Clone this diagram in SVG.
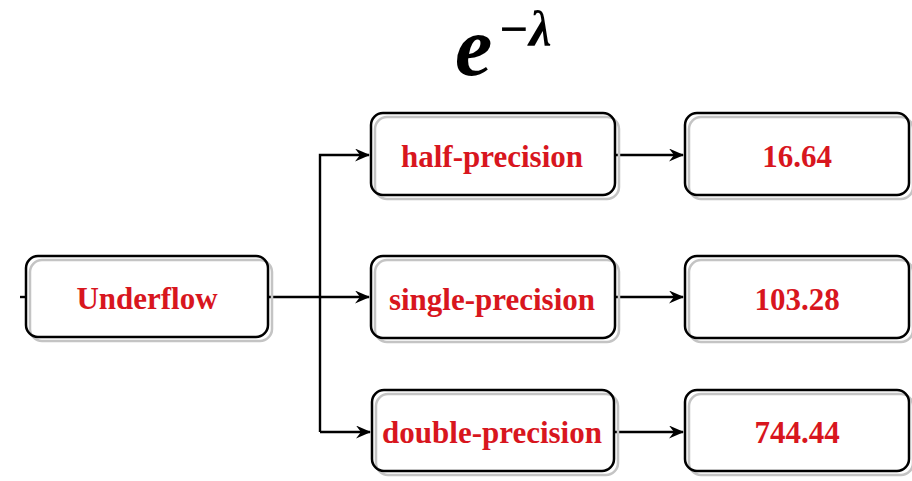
<svg xmlns="http://www.w3.org/2000/svg" width="912" height="481" viewBox="0 0 912 481">
<defs>
<style>
.sh{fill:none;stroke:#c4c4c4;stroke-width:2.5}
.bx{fill:none;stroke:#000;stroke-width:2.5}
.bg{fill:#fff;stroke:none}
.t{font-family:"Liberation Serif",serif;font-weight:bold;font-size:31px;fill:#d8161e;text-anchor:middle;dominant-baseline:central}
.c{fill:none;stroke:#000;stroke-width:2.4}
</style>
<marker id="ah" markerWidth="15" markerHeight="13" refX="14" refY="6.5" orient="auto" markerUnits="userSpaceOnUse">
<path d="M0,0 L15,6.5 L0,13 L5,6.5 Z" fill="#000"/>
</marker>
</defs>
<rect width="912" height="481" fill="#fff"/>
<g id="title" font-family="'Liberation Serif',serif" font-weight="bold" font-style="italic">
<text x="455" y="75" font-size="84">e</text>
<text x="498" y="46" font-size="51">−λ</text>
</g>
<g id="connectors">
<path class="c" d="M268,297 H369" marker-end="url(#ah)"/>
<path class="c" d="M320,432 V155 H369" marker-end="url(#ah)"/>
<path class="c" d="M320,432 H370" marker-end="url(#ah)"/>
<path class="c" d="M615,155 H683" marker-end="url(#ah)"/>
<path class="c" d="M615,297 H683" marker-end="url(#ah)"/>
<path class="c" d="M614,432 H683" marker-end="url(#ah)"/>
<path class="c" d="M20,297 H26"/>
</g>
<g id="underflow">
<rect class="bg" x="26" y="256" width="242" height="81" rx="12"/>
<rect class="sh" x="30" y="260" width="242" height="81" rx="12"/>
<rect class="bx" x="26" y="256" width="242" height="81" rx="12"/>
<text class="t" x="147" y="298">Underflow</text>
</g>
<g id="half">
<rect class="bg" x="371" y="113" width="244" height="82" rx="12"/>
<rect class="sh" x="375" y="117" width="244" height="82" rx="12"/>
<rect class="bx" x="371" y="113" width="244" height="82" rx="12"/>
<text class="t" x="492" y="156">half-precision</text>
</g>
<g id="single">
<rect class="bg" x="371" y="256" width="244" height="82" rx="12"/>
<rect class="sh" x="375" y="260" width="244" height="82" rx="12"/>
<rect class="bx" x="371" y="256" width="244" height="82" rx="12"/>
<text class="t" x="492" y="299">single-precision</text>
</g>
<g id="double">
<rect class="bg" x="372" y="390" width="242" height="81" rx="12"/>
<rect class="sh" x="376" y="394" width="242" height="81" rx="12"/>
<rect class="bx" x="372" y="390" width="242" height="81" rx="12"/>
<text class="t" x="492" y="432">double-precision</text>
</g>
<g id="r1">
<rect class="bg" x="685" y="113" width="224" height="82" rx="12"/>
<rect class="sh" x="689" y="117" width="224" height="82" rx="12"/>
<rect class="bx" x="685" y="113" width="224" height="82" rx="12"/>
<text class="t" x="797" y="156">16.64</text>
</g>
<g id="r2">
<rect class="bg" x="685" y="256" width="224" height="82" rx="12"/>
<rect class="sh" x="689" y="260" width="224" height="82" rx="12"/>
<rect class="bx" x="685" y="256" width="224" height="82" rx="12"/>
<text class="t" x="797" y="299">103.28</text>
</g>
<g id="r3">
<rect class="bg" x="685" y="390" width="224" height="81" rx="12"/>
<rect class="sh" x="689" y="394" width="224" height="81" rx="12"/>
<rect class="bx" x="685" y="390" width="224" height="81" rx="12"/>
<text class="t" x="797" y="432">744.44</text>
</g>
</svg>
